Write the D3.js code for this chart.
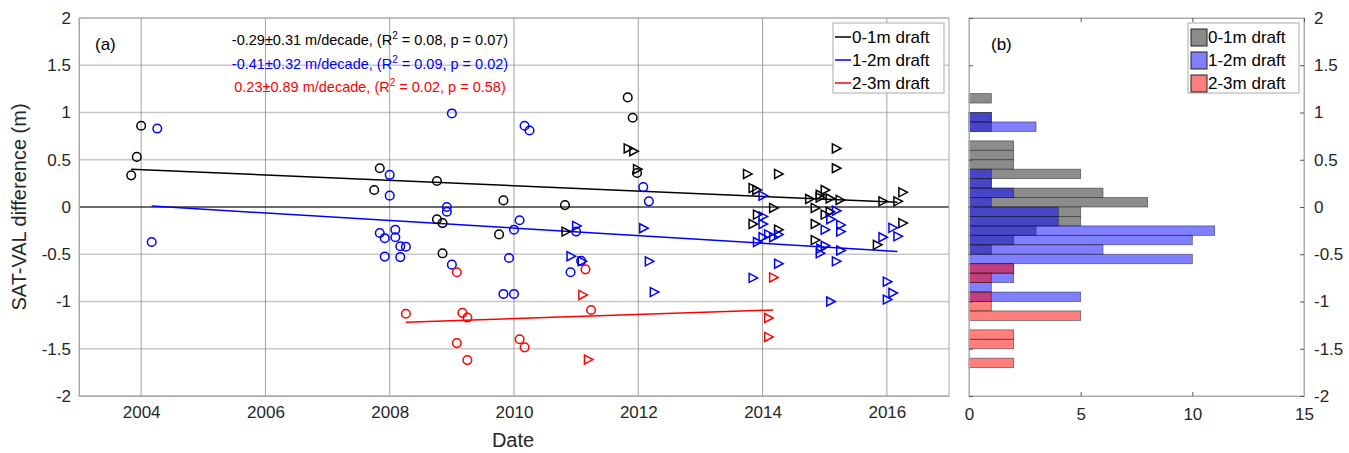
<!DOCTYPE html><html><head><meta charset="utf-8"><script src="https://cdn.jsdelivr.net/npm/d3@7"></script>
<style>body{margin:0;background:#fff}text{font-family:"Helvetica","Liberation Sans",Arial,sans-serif}</style></head><body><svg id="c" width="1349" height="453"></svg><script>
const blackCirc=[[2003.84,0.335],[2003.93,0.53],[2004.0,0.86],[2007.84,0.41],[2007.75,0.18],[2008.76,0.275],[2008.76,-0.13],[2008.85,-0.17],[2008.85,-0.49],[2009.83,0.07],[2009.76,-0.29],[2011.83,1.16],[2011.91,0.945],[2010.82,0.02],[2011.98,0.36]];
const blueCirc=[[2004.26,0.83],[2004.17,-0.37],[2009.0,0.99],[2008.0,0.34],[2008.0,0.12],[2007.84,-0.275],[2007.92,-0.33],[2007.92,-0.525],[2008.09,-0.24],[2008.09,-0.32],[2008.17,-0.415],[2008.26,-0.42],[2008.17,-0.53],[2008.92,0],[2008.92,-0.05],[2009.0,-0.61],[2009.83,-0.92],[2010.0,-0.92],[2009.92,-0.54],[2010.0,-0.24],[2010.09,-0.14],[2010.17,0.86],[2010.25,0.81],[2012.08,0.21],[2012.17,0.06],[2010.91,-0.69],[2011.0,-0.26],[2011.08,-0.57]];
const redCirc=[[2008.26,-1.13],[2009.08,-0.69],[2009.17,-1.12],[2009.25,-1.17],[2009.08,-1.44],[2009.25,-1.62],[2010.09,-1.40],[2010.17,-1.485],[2011.15,-0.66],[2011.24,-1.09]];
const blackTri=[[2011.83,0.62],[2011.92,0.59],[2011.98,0.40],[2010.83,-0.26],[2013.75,0.35],[2014.25,0.35],[2013.84,0.2],[2013.9,0.18],[2014.17,-0.01],[2013.91,-0.08],[2013.84,-0.18],[2014.25,-0.24],[2014.75,0.085],[2014.84,-0.01],[2014.84,-0.18],[2014.84,-0.35],[2014.92,0.13],[2015.0,0.18],[2015.08,0.09],[2015.24,0.075],[2015.0,-0.08],[2015.08,-0.05],[2015.18,0.62],[2015.18,0.41],[2014.92,0.1],[2015.84,-0.4],[2015.93,0.06],[2016.17,0.06],[2016.25,0.155],[2016.25,-0.17]];
const blueTri=[[2011.0,-0.2],[2010.91,-0.52],[2011.09,-0.575],[2012.08,-0.225],[2012.17,-0.575],[2012.25,-0.9],[2014.0,0.12],[2014.0,-0.1],[2014.0,-0.18],[2013.91,-0.37],[2014.0,-0.32],[2014.09,-0.29],[2014.17,-0.32],[2014.25,-0.29],[2014.25,-0.6],[2013.84,-0.75],[2015.0,-0.24],[2015.0,-0.41],[2014.92,-0.49],[2014.93,-0.44],[2015.18,-0.04],[2015.09,-0.13],[2015.25,-0.19],[2015.25,-0.26],[2015.25,-0.46],[2015.18,-0.575],[2015.09,-1.0],[2016.09,-0.22],[2016.17,-0.31],[2015.93,-0.32],[2016.0,-0.79],[2016.09,-0.91],[2016.0,-0.98]];
const redTri=[[2011.1,-0.93],[2011.19,-1.615],[2014.17,-0.745],[2014.09,-1.175],[2014.09,-1.375]];
const trendBlack=[[2003.84,0.40],[2016.17,0.05]];
const trendBlue=[[2004.17,0.01],[2016.17,-0.47]];
const trendRed=[[2008.26,-1.22],[2014.17,-1.09]];
const binLo=[1.1,1.0,0.9,0.8,0.7,0.6,0.5,0.4,0.3,0.2,0.1,0.0,-0.1,-0.2,-0.3,-0.4,-0.5,-0.6,-0.7,-0.8,-0.9,-1.0,-1.1,-1.2,-1.3,-1.4,-1.5,-1.6,-1.7];
const histBlack=[1,0,1,1,0,2,2,2,5,1,6,8,5,5,3,2,1,0,0,0,0,0,0,0,0,0,0,0,0];
const histBlue=[0,0,1,3,0,0,0,0,1,1,2,1,4,4,11,10,6,10,2,2,1,5,0,0,0,0,0,0,0];
const histRed=[0,0,0,0,0,0,0,0,0,0,0,0,0,0,0,0,0,0,2,1,0,1,1,5,0,2,2,0,2];
const yTicks=[-2,-1.5,-1,-0.5,0,0.5,1,1.5,2];
const xTicks=[2004,2006,2008,2010,2012,2014,2016];
const hTicks=[0,5,10,15];
const notes=[["-0.29\u00b10.31 m/decade, (R","2"," = 0.08, p = 0.07)","#000"],["-0.41\u00b10.32 m/decade, (R","2"," = 0.09, p = 0.02)","#00f"],["0.23\u00b10.89 m/decade, (R","2"," = 0.02, p = 0.58)","#f00"]];
const labels=["0-1m draft","1-2m draft","2-3m draft"];

const svg=d3.select("#c");
const x=d3.scaleLinear().domain([2003,2017]).range([79,949]);
const y=d3.scaleLinear().domain([-2,2]).range([396,18]);
const hx=d3.scaleLinear().domain([0,15]).range([969,1304]);
const g=svg.append("g");
g.selectAll(".gy").data(yTicks).join("line").attr("x1",79).attr("x2",949).attr("y1",d=>y(d)).attr("y2",d=>y(d)).attr("stroke","#c8c8c8").attr("stroke-width",1.3);
g.selectAll(".gx").data(xTicks).join("line").attr("y1",18).attr("y2",396).attr("x1",d=>x(d)).attr("x2",d=>x(d)).attr("stroke","#8a8a8a").attr("stroke-width",0.8);
g.append("line").attr("x1",79).attr("x2",949).attr("y1",y(0)).attr("y2",y(0)).attr("stroke","#000").attr("stroke-width",1.2);
function ax(sel,axis,tr){const a=svg.append("g").attr("transform",tr).call(axis);a.selectAll("text").attr("font-size",17).attr("fill","#262626");a.select(".domain").attr("stroke","#aaa");a.selectAll(".tick line").attr("stroke","#555");return a;}
ax(null,d3.axisBottom(x).tickValues(xTicks).tickFormat(d3.format("d")).tickSize(0).tickPadding(10),"translate(0,396)");
ax(null,d3.axisLeft(y).tickValues(yTicks).tickFormat(d=>d).tickSize(0).tickPadding(8),"translate(79,0)");
svg.append("rect").attr("x",79).attr("y",18).attr("width",870).attr("height",378).attr("fill","none").attr("stroke","#aaa");
svg.append("text").attr("x",513).attr("y",447).attr("text-anchor","middle").attr("font-size",20).attr("fill","#262626").text("Date");
svg.append("text").attr("transform","translate(26,207) rotate(-90)").attr("text-anchor","middle").attr("font-size",20).attr("fill","#262626").text("SAT-VAL difference (m)");
svg.append("text").attr("x",95).attr("y",50).attr("font-size",17).text("(a)");
[[trendBlack,"#000"],[trendBlue,"#00f"],[trendRed,"#f00"]].forEach(([t,c])=>svg.append("line").attr("x1",x(t[0][0])).attr("y1",y(t[0][1])).attr("x2",x(t[1][0])).attr("y2",y(t[1][1])).attr("stroke",c).attr("stroke-width",1.5));
[[blackCirc,"#000"],[blueCirc,"#00f"],[redCirc,"#f00"]].forEach(([d,c])=>svg.append("g").selectAll("circle").data(d).join("circle").attr("cx",p=>x(p[0])).attr("cy",p=>y(p[1])).attr("r",4.3).attr("fill","none").attr("stroke",c).attr("stroke-width",1.5));
[[blackTri,"#000"],[blueTri,"#00f"],[redTri,"#f00"]].forEach(([d,c])=>svg.append("g").selectAll("path").data(d).join("path").attr("d",p=>{const cx=x(p[0]),cy=y(p[1]);return `M${cx-3.5},${cy-4.5}L${cx+5},${cy}L${cx-3.5},${cy+4.5}Z`;}).attr("fill","none").attr("stroke",c).attr("stroke-width",1.5));
notes.forEach((n,i)=>{const t=svg.append("text").attr("x",370).attr("y",45+i*23.5).attr("text-anchor","middle").attr("font-size",14.5).attr("fill",n[3]);t.append("tspan").text(n[0]);t.append("tspan").attr("dy",-6).attr("font-size",10).text(n[1]);t.append("tspan").attr("dy",6).text(n[2]);});
svg.append("rect").attr("x",833).attr("y",23).attr("width",111).attr("height",70).attr("fill","#fff").attr("stroke","#aaa");
["#000","#00f","#f00"].forEach((c,i)=>{const yy=37+i*23;svg.append("line").attr("x1",835).attr("x2",851).attr("y1",yy).attr("y2",yy).attr("stroke",c).attr("stroke-width",1.5);svg.append("text").attr("x",852).attr("y",yy+6).attr("font-size",17).attr("fill","#000").text(labels[i]);});
const bh=y(0)-y(0.1);
[[histBlack,"#808080",0.9],[histBlue,"#0000ff",0.5],[histRed,"#ff0000",0.5]].forEach(([h,c,o])=>svg.append("g").selectAll("rect").data(h.map((v,i)=>[binLo[i],v]).filter(d=>d[1]>0)).join("rect").attr("x",hx(0)).attr("y",d=>y(d[0]+0.1)).attr("width",d=>hx(d[1])-hx(0)).attr("height",bh).attr("fill",c).attr("fill-opacity",o).attr("stroke","#222").attr("stroke-opacity",0.6).attr("stroke-width",0.8));
svg.append("rect").attr("x",969).attr("y",18).attr("width",335).attr("height",378).attr("fill","none").attr("stroke","#aaa");
ax(null,d3.axisBottom(hx).tickValues(hTicks).tickSize(-4).tickPadding(12),"translate(0,396)");
ax(null,d3.axisRight(y).tickValues(yTicks).tickFormat(d=>d).tickSize(-4).tickPadding(10),"translate(1304,0)");
ax(null,d3.axisTop(hx).tickValues(hTicks).tickFormat("").tickSize(-4),"translate(0,18)");
ax(null,d3.axisLeft(y).tickValues(yTicks).tickFormat("").tickSize(-4),"translate(969,0)");
svg.append("text").attr("x",991).attr("y",50).attr("font-size",17).text("(b)");
svg.append("rect").attr("x",1188).attr("y",23).attr("width",111).attr("height",70).attr("fill","#fff").attr("stroke","#aaa");
[["#808080",0.9],["#0000ff",0.5],["#ff0000",0.5]].forEach(([c,o],i)=>{const yy=37+i*23;svg.append("rect").attr("x",1191).attr("y",yy-8).attr("width",16).attr("height",17).attr("fill",c).attr("fill-opacity",o).attr("stroke","#222");svg.append("text").attr("x",1208).attr("y",yy+6).attr("font-size",17).text(labels[i]);});
</script></body></html>
